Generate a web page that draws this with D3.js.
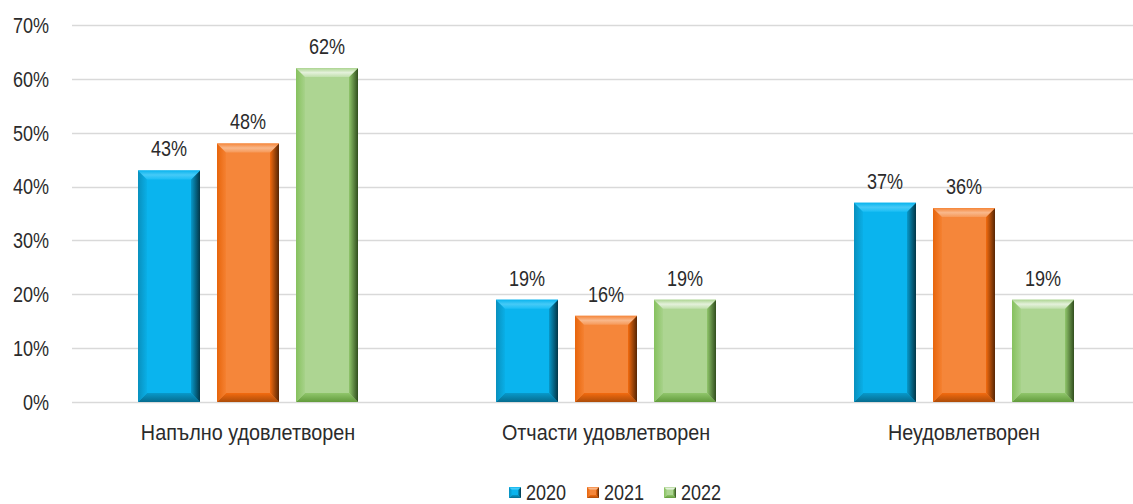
<!DOCTYPE html>
<html><head><meta charset="utf-8">
<script src="https://cdn.jsdelivr.net/npm/d3@7"></script>
<style>
html,body{margin:0;padding:0;background:#fff;}
svg{display:block;}
text{font-family:"Liberation Sans",Arial,sans-serif;fill:#2b2b2b;}
</style></head>
<body>
<svg id="chart" width="1133" height="504"></svg>
<script>
const categories = ["Напълно удовлетворен", "Отчасти удовлетворен", "Неудовлетворен"];
const seriesNames = ["2020", "2021", "2022"];
const values2020 = [43, 19, 37];
const values2021 = [48, 16, 36];
const values2022 = [62, 19, 19];
const yTicks = [0, 10, 20, 30, 40, 50, 60, 70];
const colors = ["#0AB4EE", "#F5863A", "#ADD592"];
</script>
<script>
const seriesValues = [values2020, values2021, values2022];

const svg = d3.select("#chart");
const W = 1133, H = 504;
const plotLeft = 69, plotRight = 1143, plotTop = 25, plotBottom = 402;
const FS = 22, SX = 0.82;

const x0 = d3.scaleBand().domain(categories).range([plotLeft, plotRight]).paddingInner(0).paddingOuter(0);
const groupW = 220;
const x1 = d3.scaleBand().domain(seriesNames).range([0, groupW]).paddingInner(17/79).paddingOuter(0);
const y = d3.scaleLinear().domain([0, 70]).range([plotBottom, plotTop]);

function narrowText(g, x, yy, str, anchor, dy, sx) {
  return g.append("text")
    .attr("transform", `translate(${x},${yy}) scale(${sx || SX},1)`)
    .attr("text-anchor", anchor).attr("dy", dy || 0)
    .attr("font-size", FS).text(str);
}

// gradients
const defs = svg.append("defs");
function shade(c, k) { const h = d3.hsl(c); h.l = Math.max(0, Math.min(1, h.l * k)); return h.toString(); }
colors.forEach((c, i) => {
  const gR = defs.append("linearGradient").attr("id", "gr" + i).attr("x1", 0).attr("x2", 1).attr("y1", 0).attr("y2", 0);
  gR.append("stop").attr("offset", 0).attr("stop-color", shade(c, 0.85));
  gR.append("stop").attr("offset", 1).attr("stop-color", shade(c, 0.3));
  const gT = defs.append("linearGradient").attr("id", "gt" + i).attr("x1", 0).attr("x2", 0).attr("y1", 0).attr("y2", 1);
  gT.append("stop").attr("offset", 0).attr("stop-color", shade(c, 1.0));
  gT.append("stop").attr("offset", 0.5).attr("stop-color", shade(c, 1.28));
  gT.append("stop").attr("offset", 1).attr("stop-color", shade(c, 1.1));
  const gL = defs.append("linearGradient").attr("id", "gl" + i).attr("x1", 0).attr("x2", 1).attr("y1", 0).attr("y2", 0);
  gL.append("stop").attr("offset", 0).attr("stop-color", shade(c, 0.8));
  gL.append("stop").attr("offset", 1).attr("stop-color", shade(c, 0.97));
  const gB = defs.append("linearGradient").attr("id", "gb" + i).attr("x1", 0).attr("x2", 0).attr("y1", 0).attr("y2", 1);
  gB.append("stop").attr("offset", 0).attr("stop-color", shade(c, 0.85));
  gB.append("stop").attr("offset", 1).attr("stop-color", shade(c, 0.6));
});

// gridlines
svg.append("g").selectAll("line").data(yTicks).join("line")
  .attr("x1", 72).attr("x2", W)
  .attr("y1", d => Math.round(y(d)) + 0.5).attr("y2", d => Math.round(y(d)) + 0.5)
  .attr("stroke", "#D9D9D9").attr("stroke-width", 1.5);

// y labels
const yl = svg.append("g");
yTicks.forEach(t => narrowText(yl, 49, y(t), t + "%", "end", "0.36em"));

function bevelBar(g, x, yTop, w, h, i, b) {
  const yB = yTop + h;
  b = Math.min(b, h / 2, w / 2);
  g.append("rect").attr("x", x).attr("y", yTop).attr("width", w).attr("height", h).attr("fill", colors[i]);
  g.append("polygon").attr("points", [[x, yB], [x + w, yB], [x + w - b, yB - b], [x + b, yB - b]].join(" ")).attr("fill", "url(#gb" + i + ")");
  g.append("polygon").attr("points", [[x, yTop], [x + b, yTop + b], [x + b, yB - b], [x, yB]].join(" ")).attr("fill", "url(#gl" + i + ")");
  g.append("polygon").attr("points", [[x + w, yTop], [x + w, yB], [x + w - b, yB - b], [x + w - b, yTop + b]].join(" ")).attr("fill", "url(#gr" + i + ")");
  g.append("polygon").attr("points", [[x, yTop], [x + w, yTop], [x + w - b, yTop + b], [x + b, yTop + b]].join(" ")).attr("fill", "url(#gt" + i + ")");
}

const bars = svg.append("g");
const labels = svg.append("g");
categories.forEach((cat, ci) => {
  const gx = x0(cat) + x0.bandwidth() / 2 - groupW / 2;
  seriesNames.forEach((s, si) => {
    const v = seriesValues[si][ci];
    const bx = gx + x1(s);
    const bw = x1.bandwidth();
    bevelBar(bars.append("g"), bx, y(v), bw, y(0) - y(v), si, 9);
    narrowText(labels, bx + bw / 2, y(v) - 14, v + "%", "middle");
  });
});

// category labels
const cl = svg.append("g");
categories.forEach(c => narrowText(cl, x0(c) + x0.bandwidth() / 2, 440, c, "middle", 0, 0.9));

// legend
const legX = [509, 587, 664];
const lg = svg.append("g");
seriesNames.forEach((s, i) => {
  bevelBar(lg, legX[i], 487, 12, 11, i, 3);
  narrowText(lg, legX[i] + 17, 492, s, "start", "0.36em");
});
</script>
</body></html>
